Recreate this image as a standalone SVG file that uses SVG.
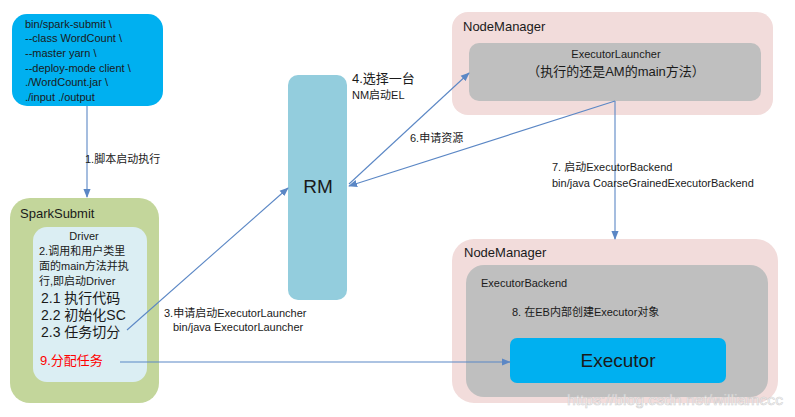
<svg xmlns="http://www.w3.org/2000/svg" width="795" height="417" viewBox="0 0 795 417">
<defs>
<style>
text{font-family:"Liberation Sans","Noto Sans CJK SC",sans-serif;fill:#1a1a1a;font-size:11px}
.s{font-size:11px}
.m{font-size:13px}
.l{font-size:14px}
.big{font-size:19px}
.c{text-anchor:middle}
.conn{stroke:#5b87c5;stroke-width:1.1;fill:none;marker-end:url(#ah)}
</style>
<marker id="ah" viewBox="0 0 10 10" refX="9" refY="5" markerWidth="9" markerHeight="9" orient="auto" markerUnits="userSpaceOnUse">
<path d="M0,1 L10,5 L0,9 z" fill="#5b87c5"/>
</marker>
</defs>
<rect width="795" height="417" fill="#fff"/>

<g id="cmd">
<rect x="12" y="14" width="151" height="92" rx="15" fill="#00b0f0"/>
<text x="25" y="28">bin/spark-submit \</text>
<text x="25" y="42">--class WordCount \</text>
<text x="25" y="57">--master yarn \</text>
<text x="25" y="72">--deploy-mode client \</text>
<text x="25" y="86">./WordCount.jar \</text>
<text x="25" y="101">./input ./output</text>
</g>

<g id="sparksubmit">
<rect x="10" y="198" width="149" height="205" rx="20" fill="#c3d69b"/>
<text x="20" y="218" class="m">SparkSubmit</text>
</g>

<g id="driver">
<rect x="33" y="227" width="114" height="155" rx="14" fill="#dbeef3"/>
<text x="84" y="240" class="c">Driver</text>
<text x="39" y="255" class="s">2.调用和用户类里</text>
<text x="39" y="270" class="s">面的main方法并执</text>
<text x="39" y="285" class="s">行,即启动Driver</text>
<text x="41" y="303" class="l">2.1 执行代码</text>
<text x="41" y="320" class="l">2.2 初始化SC</text>
<text x="41" y="337" class="l">2.3 任务切分</text>
<text x="40" y="365" class="m" style="fill:#ff0000">9.分配任务</text>
</g>

<g id="rm">
<rect x="288" y="75" width="59" height="225" rx="10" fill="#93cddd"/>
<text x="318" y="193" class="big c">RM</text>
</g>

<g id="nm1">
<rect x="452" y="12" width="321" height="103" rx="16" fill="#f2dcdb"/>
<text x="463" y="31" class="m">NodeManager</text>
</g>

<g id="executorlauncher">
<rect x="469" y="43" width="292" height="58" rx="10" fill="#bfbfbf"/>
<text x="616" y="58" class="c">ExecutorLauncher</text>
<text x="616" y="76" class="m c">（执行的还是AM的main方法）</text>
</g>

<g id="nm2">
<rect x="452" y="239" width="326" height="164" rx="22" fill="#f2dcdb"/>
<text x="464" y="257" class="m">NodeManager</text>
</g>

<g id="executorbackend">
<rect x="466" y="265" width="302" height="132" rx="18" fill="#bfbfbf"/>
<text x="481" y="287">ExecutorBackend</text>
<text x="512" y="316">8. 在EB内部创建Executor对象</text>
</g>

<g id="executor">
<rect x="510" y="338" width="216" height="45" rx="7" fill="#00b0f0"/>
<text x="618" y="367" class="big c">Executor</text>
</g>

<g id="connectors">
<line class="conn" x1="87" y1="106" x2="87" y2="197"/>
<line class="conn" x1="127" y1="330" x2="288" y2="188"/>
<line class="conn" x1="349" y1="184" x2="469" y2="73"/>
<line class="conn" x1="615" y1="101" x2="349" y2="186"/>
<line class="conn" x1="615" y1="101" x2="615" y2="239"/>
<line class="conn" x1="120" y1="362" x2="510" y2="362"/>
</g>

<g id="labels">
<text x="85" y="163">1.脚本启动执行</text>
<text x="164" y="317" class="s">3.申请启动ExecutorLauncher</text>
<text x="173" y="331">bin/java ExecutorLauncher</text>
<text x="352" y="83" class="m">4.选择一台</text>
<text x="352" y="99">NM启动EL</text>
<text x="410" y="142">6.申请资源</text>
<text x="552" y="171">7. 启动ExecutorBackend</text>
<text x="552" y="187">bin/java CoarseGrainedExecutorBackend</text>
</g>

<text x="567" y="405" textLength="216" lengthAdjust="spacingAndGlyphs" style="font-size:15px;fill:#ffffff;stroke:#c8c8c8;stroke-width:0.6;opacity:0.8">https://blog.csdn.net/williamccc</text>
</svg>
